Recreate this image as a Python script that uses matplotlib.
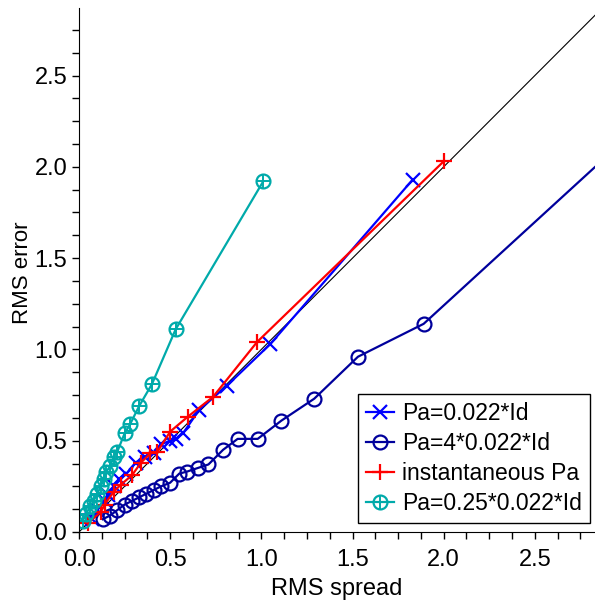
import matplotlib
matplotlib.use("Agg")
import matplotlib.pyplot as plt
from matplotlib.ticker import MultipleLocator
from matplotlib.legend_handler import HandlerTuple

plt.rcParams['font.family'] = ['Liberation Sans', 'DejaVu Sans']

# Pa=0.022*Id
blue_x = [0.07, 0.10, 0.14, 0.16, 0.19, 0.22, 0.26, 0.31, 0.36, 0.41, 0.45, 0.50, 0.53, 0.57, 0.66, 0.81, 1.05, 1.83]
blue_y = [0.07, 0.12, 0.17, 0.20, 0.25, 0.29, 0.32, 0.38, 0.41, 0.43, 0.48, 0.50, 0.51, 0.54, 0.67, 0.80, 1.03, 1.93]

# Pa=4*0.022*Id (last point lies beyond the right edge)
navy_x = [0.13, 0.17, 0.21, 0.25, 0.29, 0.33, 0.37, 0.41, 0.45, 0.50, 0.55, 0.59, 0.65, 0.71, 0.79, 0.87, 0.98, 1.11, 1.29, 1.53, 1.89, 3.40]
navy_y = [0.07, 0.09, 0.12, 0.15, 0.17, 0.19, 0.21, 0.23, 0.25, 0.27, 0.32, 0.33, 0.35, 0.37, 0.45, 0.51, 0.51, 0.61, 0.73, 0.96, 1.14, 2.52]

# instantaneous Pa
red_x = [0.05, 0.12, 0.14, 0.19, 0.23, 0.29, 0.34, 0.39, 0.43, 0.50, 0.595, 0.735, 0.976, 2.0]
red_y = [0.05, 0.11, 0.15, 0.22, 0.26, 0.31, 0.38, 0.43, 0.44, 0.55, 0.63, 0.74, 1.04, 2.03]

# Pa=0.25*0.022*Id
cyan_x = [0.02, 0.04, 0.06, 0.08, 0.10, 0.12, 0.135, 0.15, 0.17, 0.19, 0.21, 0.25, 0.28, 0.33, 0.40, 0.53, 1.01]
cyan_y = [0.06, 0.10, 0.14, 0.17, 0.21, 0.25, 0.29, 0.33, 0.36, 0.41, 0.44, 0.54, 0.59, 0.69, 0.81, 1.11, 1.92]

labels = ["Pa=0.022*Id", "Pa=4*0.022*Id", "instantaneous Pa", "Pa=0.25*0.022*Id"]

fig = plt.figure(figsize=(5.95, 6.02), dpi=100)
ax = fig.add_axes([0.1328, 0.1163, 0.8672, 0.8704])

# 1:1 reference line
ax.plot([0, 3], [0, 3], color="black", lw=0.8, zorder=1)

h1, = ax.plot(blue_x, blue_y, color="#0000ff", lw=1.6, marker="x", ms=10, mew=1.6)
h2, = ax.plot(navy_x, navy_y, color="#00009c", lw=1.6, marker="o", ms=10, mew=1.6, mfc="none")
h3, = ax.plot(red_x, red_y, color="#ff0000", lw=1.6, marker="+", ms=11, mew=1.6)
h4, = ax.plot(cyan_x, cyan_y, color="#00aaaa", lw=1.6, marker="o", ms=10, mew=1.6, mfc="none")
h4b, = ax.plot(cyan_x, cyan_y, color="#00aaaa", lw=0, marker="+", ms=10, mew=1.4)

ax.set_xlim(0, 2.83)
ax.set_ylim(0, 2.87)
ax.xaxis.set_major_locator(MultipleLocator(0.5))
ax.yaxis.set_major_locator(MultipleLocator(0.5))
ax.xaxis.set_minor_locator(MultipleLocator(0.125))
ax.yaxis.set_minor_locator(MultipleLocator(0.125))
ax.xaxis.set_major_formatter(plt.FormatStrFormatter("%.1f"))
ax.yaxis.set_major_formatter(plt.FormatStrFormatter("%.1f"))
ax.tick_params(which="both", direction="out", length=5, width=1, labelsize=17)
ax.tick_params(axis="x", pad=7)
ax.spines["top"].set_visible(False)
ax.spines["right"].set_visible(False)

ax.set_xlabel("RMS spread", fontsize=17, labelpad=5)
ax.set_ylabel("RMS error", fontsize=16)
ax.yaxis.set_label_coords(-0.09, 0.494)

leg = ax.legend([h1, h2, h3, (h4, h4b)], labels, loc="lower right",
                bbox_to_anchor=(0.99, 0.017), borderaxespad=0, fontsize=16.5,
                fancybox=False, edgecolor="black", framealpha=1,
                handlelength=1.2, handletextpad=0.35, borderpad=0.35,
                labelspacing=0.3,
                handler_map={tuple: HandlerTuple(ndivide=1)})
leg.get_frame().set_linewidth(1.0)

fig.savefig("out.png", dpi=100)
